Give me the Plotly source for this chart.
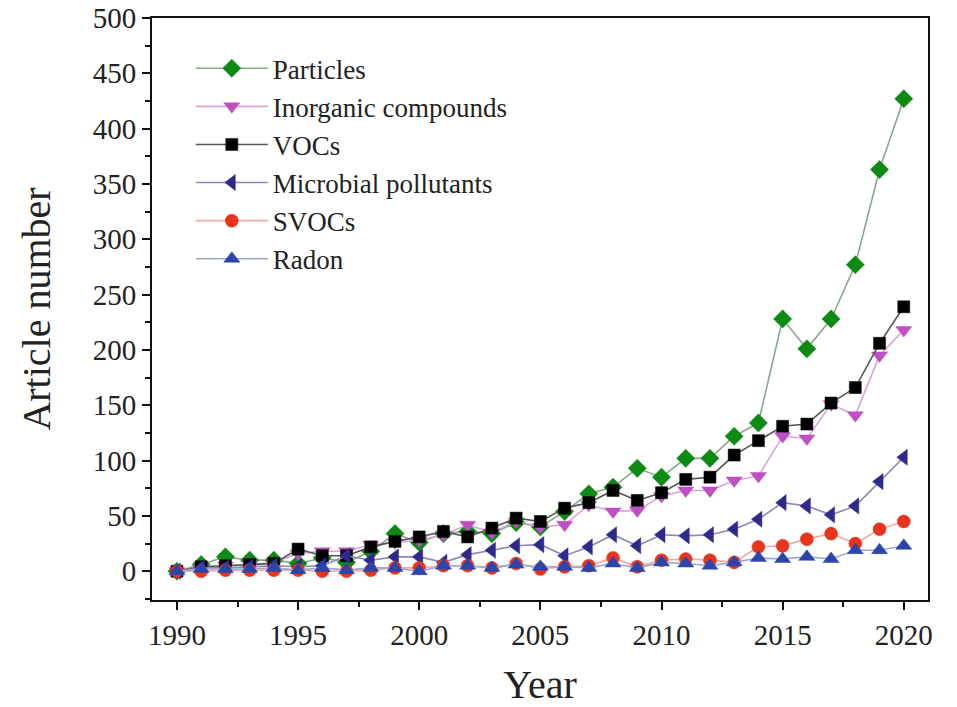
import plotly.graph_objects as go

years = list(range(1990, 2021))

particles = [0, 6, 13, 10, 10, 7, 12, 8, 18, 34, 26, 34, 36, 34, 44, 40, 54, 70, 76, 93, 85, 102, 102, 122, 134, 228, 201, 228, 277, 363, 427]
inorganic = [0, 3, 5, 6, 8, 16, 18, 18, 24, 26, 28, 33, 42, 35, 45, 40, 42, 60, 54, 55, 68, 73, 73, 82, 86, 122, 120, 151, 141, 195, 218]
vocs = [0, 4, 5, 6, 7, 20, 14, 14, 22, 27, 31, 36, 31, 39, 48, 45, 57, 62, 73, 64, 71, 83, 85, 105, 118, 131, 133, 152, 166, 206, 239]
microbial = [0, 3, 3, 4, 5, 4, 5, 14, 10, 13, 13, 8, 15, 19, 23, 24, 14, 22, 33, 23, 33, 32, 33, 38, 47, 62, 59, 51, 59, 81, 103]
svocs = [0, 0, 1, 1, 1, 1, 0, 0, 1, 3, 3, 5, 5, 3, 7, 2, 4, 5, 12, 4, 10, 11, 10, 8, 22, 23, 29, 34, 25, 38, 45]
radon = [0, 2, 2, 2, 3, 1, 3, 1, 3, 3, 0, 5, 5, 3, 6, 4, 4, 3, 7, 3, 8, 7, 5, 8, 12, 11, 13, 11, 19, 19, 23]

series_names = ["Particles", "Inorganic compounds", "VOCs", "Microbial pollutants", "SVOCs", "Radon"]
series_values = [particles, inorganic, vocs, microbial, svocs, radon]
symbols = ["diamond", "triangle-down", "square", "triangle-left", "circle", "triangle-up"]
marker_colors = ["#0c8a14", "#c04fc4", "#000000", "#2e2a8c", "#e8341f", "#2a45ab"]
line_colors = ["#8aa88a", "#d8a4d8", "#555555", "#8c88b8", "#f2aaa2", "#9ea8cf"]
marker_sizes = [14, 14, 12, 14, 13, 14]

FONT = "Liberation Serif, Times New Roman, serif"

fig = go.Figure()
for i, (name, vals) in enumerate(zip(series_names, series_values)):
    fig.add_trace(go.Scatter(
        x=years, y=vals, name=name, mode="lines+markers",
        line=dict(color=line_colors[i], width=1.6),
        marker=dict(symbol=symbols[i], size=marker_sizes[i], color=marker_colors[i],
                    line=dict(width=0.5, color=marker_colors[i])),
    ))

axis_common = dict(
    showgrid=False, zeroline=False, showline=True, linecolor="#111111", linewidth=2,
    mirror=True, ticks="outside", ticklen=8, tickwidth=2, tickcolor="#111111",
    tickfont=dict(family=FONT, size=29, color="#222222"), automargin=False,
)

fig.update_layout(
    width=957, height=707,
    margin=dict(l=152, r=29, t=18, b=107),
    plot_bgcolor="white", paper_bgcolor="white",
    xaxis=dict(range=[1988.97, 2021.0], tickmode="array", tickvals=[1990, 1995, 2000, 2005, 2010, 2015, 2020],
               minor=dict(tickmode="array", tickvals=[1992.5, 1997.5, 2002.5, 2007.5, 2012.5, 2017.5],
                          ticks="outside", ticklen=5, tickwidth=2, tickcolor="#111111"),
               title=dict(text="Year", font=dict(family=FONT, size=40, color="#222222"), standoff=30),
               **axis_common),
    yaxis=dict(range=[-26, 500], tick0=0, dtick=50,
               minor=dict(tick0=25, dtick=50, ticks="outside", ticklen=5, tickwidth=2, tickcolor="#111111"),
               title=dict(text="Article number", font=dict(family=FONT, size=40, color="#222222"), standoff=30),
               **axis_common),
    legend=dict(x=0.05, y=0.955, xanchor="left", yanchor="top", bgcolor="rgba(0,0,0,0)",
                font=dict(family=FONT, size=27, color="#222222"), itemwidth=72),
    showlegend=True,
)

fig.write_html("out.html")
